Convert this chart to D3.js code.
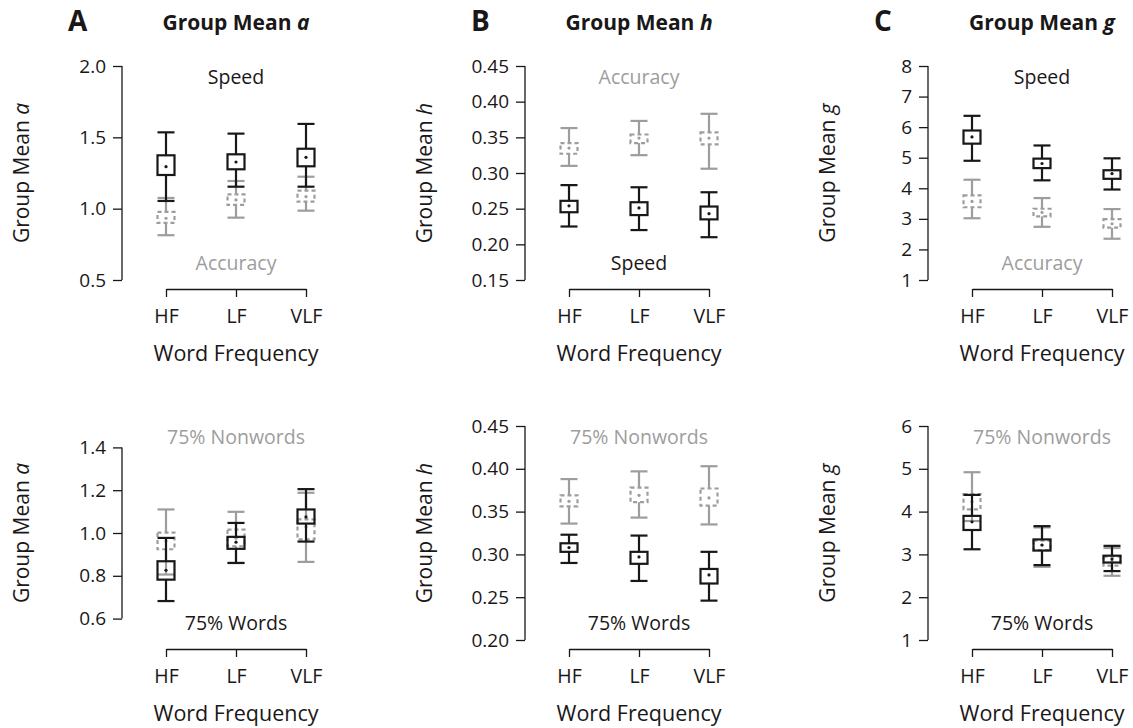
<!DOCTYPE html>
<html>
<head>
<meta charset="utf-8">
<script src="https://cdn.jsdelivr.net/npm/d3@7"></script>
<style>
  body { margin: 0; background: #fff; }
  text { font-family: "Open Sans", sans-serif; fill: #1a1718; }
</style>
</head>
<body>
<div id="chart"></div>
<script>
var width = 1133;
var height = 728;

// categories on the x axis
var categories = ["HF", "LF", "VLF"];

// each entry: [whisker low, box low, mean, box high, whisker high] for HF, LF, VLF
// row 1: speed vs accuracy instructions
var aSpeed    = [[1.054, 1.236, 1.294, 1.374, 1.535], [1.154, 1.276, 1.327, 1.381, 1.526], [1.154, 1.297, 1.360, 1.420, 1.594]];
var aAccuracy = [[0.814, 0.900, 0.933, 0.977, 1.075], [0.937, 1.026, 1.061, 1.100, 1.194], [0.986, 1.049, 1.084, 1.126, 1.224]];
var hSpeed    = [[0.225, 0.245, 0.254, 0.261, 0.283], [0.220, 0.241, 0.251, 0.259, 0.280], [0.210, 0.235, 0.243, 0.253, 0.273]];
var hAccuracy = [[0.310, 0.327, 0.335, 0.342, 0.363], [0.325, 0.342, 0.349, 0.354, 0.373], [0.306, 0.340, 0.349, 0.357, 0.383]];
var gSpeed    = [[4.90, 5.46, 5.68, 5.89, 6.37], [4.26, 4.66, 4.81, 4.97, 5.40], [3.96, 4.31, 4.48, 4.59, 4.98]];
var gAccuracy = [[3.02, 3.38, 3.57, 3.77, 4.28], [2.74, 3.08, 3.21, 3.33, 3.68], [2.35, 2.71, 2.84, 2.99, 3.32]];

// row 2: 75% words vs 75% nonwords
var aWords    = [[0.682, 0.782, 0.826, 0.868, 0.977], [0.860, 0.926, 0.957, 0.982, 1.047], [0.960, 1.044, 1.075, 1.110, 1.205]];
var aNonwords = [[0.806, 0.924, 0.963, 1.002, 1.110], [0.860, 0.938, 0.976, 1.016, 1.099], [0.865, 0.970, 1.029, 1.064, 1.188]];
var hWords    = [[0.290, 0.303, 0.308, 0.313, 0.323], [0.269, 0.289, 0.297, 0.303, 0.322], [0.246, 0.266, 0.276, 0.283, 0.303]];
var hNonwords = [[0.336, 0.356, 0.362, 0.369, 0.388], [0.343, 0.361, 0.369, 0.378, 0.397], [0.335, 0.357, 0.366, 0.377, 0.403]];
var gWords    = [[3.12, 3.57, 3.76, 3.90, 4.39], [2.75, 3.09, 3.22, 3.35, 3.66], [2.61, 2.81, 2.89, 2.97, 3.20]];
var gNonwords = [[3.78, 4.05, 4.23, 4.41, 4.92], [2.71, 3.10, 3.22, 3.32, 3.63], [2.50, 2.74, 2.84, 2.95, 3.15]];

// tick labels
var aTicksTop = [0.5, 1.0, 1.5, 2.0];
var hTicksTop = [0.15, 0.20, 0.25, 0.30, 0.35, 0.40, 0.45];
var gTicksTop = [1, 2, 3, 4, 5, 6, 7, 8];
var aTicksBottom = [0.6, 0.8, 1.0, 1.2, 1.4];
var hTicksBottom = [0.20, 0.25, 0.30, 0.35, 0.40, 0.45];
var gTicksBottom = [1, 2, 3, 4, 5, 6];

var black = '#1a1718';
var grey = '#9d9d9d';

var panels = [
  {col: 0, row: 0, param: 'a', letter: 'A', domain: [0.5, 2.0], ticks: aTicksTop, fmt: '.1f',
   solid: aSpeed, dashed: aAccuracy, topLabel: ['Speed', black], botLabel: ['Accuracy', grey]},
  {col: 1, row: 0, param: 'h', letter: 'B', domain: [0.15, 0.45], ticks: hTicksTop, fmt: '.2f',
   solid: hSpeed, dashed: hAccuracy, topLabel: ['Accuracy', grey], botLabel: ['Speed', black]},
  {col: 2, row: 0, param: 'g', letter: 'C', domain: [1, 8], ticks: gTicksTop, fmt: 'd',
   solid: gSpeed, dashed: gAccuracy, topLabel: ['Speed', black], botLabel: ['Accuracy', grey]},
  {col: 0, row: 1, param: 'a', domain: [0.5, 1.5], ticks: aTicksBottom, fmt: '.1f',
   solid: aWords, dashed: aNonwords, topLabel: ['75% Nonwords', grey], botLabel: ['75% Words', black]},
  {col: 1, row: 1, param: 'h', domain: [0.20, 0.45], ticks: hTicksBottom, fmt: '.2f',
   solid: hWords, dashed: hNonwords, topLabel: ['75% Nonwords', grey], botLabel: ['75% Words', black]},
  {col: 2, row: 1, param: 'g', domain: [1, 6], ticks: gTicksBottom, fmt: 'd',
   solid: gWords, dashed: gNonwords, topLabel: ['75% Nonwords', grey], botLabel: ['75% Words', black]}
];

var axisX = [122, 525, 928];
var rowRange = [[280, 66], [640, 426]];
var boxHalf = 8.5;

var svg = d3.select('#chart').append('svg').attr('width', width).attr('height', height);

panels.forEach(function(p) {
  var x0 = axisX[p.col];
  var range = rowRange[p.row];
  var g = svg.append('g').attr('class', 'panel');

  var y = d3.scaleLinear().domain(p.domain).range(range);
  var x = d3.scalePoint().domain(categories).range([x0 + 44, x0 + 184]);

  // y axis, line only between first and last tick
  var yAxis = d3.axisLeft(y).tickValues(p.ticks).tickSize(9).tickPadding(7)
    .tickFormat(d3.format(p.fmt));
  var ya = g.append('g').attr('transform', 'translate(' + x0 + ',0)').call(yAxis);
  ya.select('.domain').remove();
  ya.selectAll('.tick line').attr('stroke', black).attr('stroke-width', 1.3);
  ya.selectAll('.tick text').attr('font-size', 19).attr('fill', black)
    .style('font-family', '"Open Sans", sans-serif');
  ya.append('line')
    .attr('x1', 0).attr('x2', 0)
    .attr('y1', y(d3.min(p.ticks))).attr('y2', y(d3.max(p.ticks)))
    .attr('stroke', black).attr('stroke-width', 1.3);

  // x bracket axis
  var by = range[0] + 9;
  var xAxis = d3.axisBottom(x).tickSizeInner(8).tickSizeOuter(0).tickPadding(12);
  var xa = g.append('g').attr('transform', 'translate(0,' + by + ')').call(xAxis);
  xa.select('.domain').attr('stroke', black).attr('stroke-width', 1.3);
  xa.selectAll('.tick line').attr('stroke', black).attr('stroke-width', 1.3);
  xa.selectAll('.tick text').attr('font-size', 19.5).attr('fill', black)
    .style('font-family', '"Open Sans", sans-serif');

  // axis titles
  g.append('text')
    .attr('x', x('LF')).attr('y', by + 72)
    .attr('text-anchor', 'middle').attr('font-size', 21.5)
    .text('Word Frequency');

  var yl = g.append('text')
    .attr('transform', 'translate(' + (x0 - 93) + ',' + ((range[0] + range[1]) / 2) + ') rotate(-90)')
    .attr('text-anchor', 'middle').attr('font-size', 21);
  yl.append('tspan').text('Group Mean ');
  yl.append('tspan').attr('font-style', 'italic').text(p.param);

  // panel heading
  if (p.letter) {
    g.append('text')
      .attr('x', x0 - 54).attr('y', 31)
      .attr('font-size', 28).attr('font-weight', 'bold')
      .text(p.letter);
    var t = g.append('text')
      .attr('x', x('LF')).attr('y', 30)
      .attr('text-anchor', 'middle').attr('font-size', 21).attr('font-weight', 'bold');
    t.append('tspan').text('Group Mean ');
    t.append('tspan').attr('font-style', 'italic').text(p.param);
  }

  // condition labels
  g.append('text')
    .attr('x', x('LF')).attr('y', range[1] + 18)
    .attr('text-anchor', 'middle').attr('font-size', 19.5)
    .style('fill', p.topLabel[1])
    .text(p.topLabel[0]);
  g.append('text')
    .attr('x', x('LF')).attr('y', range[0] - 10)
    .attr('text-anchor', 'middle').attr('font-size', 19.5)
    .style('fill', p.botLabel[1])
    .text(p.botLabel[0]);

  // error bars with boxes
  function drawSeries(data, color, dash, cls) {
    var sg = g.append('g').attr('class', cls);
    var items = sg.selectAll('g.item').data(data).enter().append('g').attr('class', 'item');

    // upper whisker
    items.append('line')
      .attr('x1', function(d, i) { return x(categories[i]); })
      .attr('x2', function(d, i) { return x(categories[i]); })
      .attr('y1', function(d) { return y(d[3]); })
      .attr('y2', function(d) { return y(d[4]); })
      .attr('stroke', color).attr('stroke-width', 2.2);
    // lower whisker
    items.append('line')
      .attr('x1', function(d, i) { return x(categories[i]); })
      .attr('x2', function(d, i) { return x(categories[i]); })
      .attr('y1', function(d) { return y(d[1]); })
      .attr('y2', function(d) { return y(d[0]); })
      .attr('stroke', color).attr('stroke-width', 2.2);
    // caps
    items.append('line')
      .attr('x1', function(d, i) { return x(categories[i]) - boxHalf; })
      .attr('x2', function(d, i) { return x(categories[i]) + boxHalf; })
      .attr('y1', function(d) { return y(d[4]); })
      .attr('y2', function(d) { return y(d[4]); })
      .attr('stroke', color).attr('stroke-width', 2.2);
    items.append('line')
      .attr('x1', function(d, i) { return x(categories[i]) - boxHalf; })
      .attr('x2', function(d, i) { return x(categories[i]) + boxHalf; })
      .attr('y1', function(d) { return y(d[0]); })
      .attr('y2', function(d) { return y(d[0]); })
      .attr('stroke', color).attr('stroke-width', 2.2);
    // box
    items.append('rect')
      .attr('x', function(d, i) { return x(categories[i]) - boxHalf; })
      .attr('y', function(d) { return y(d[3]); })
      .attr('width', boxHalf * 2)
      .attr('height', function(d) { return y(d[1]) - y(d[3]); })
      .attr('fill', 'none')
      .attr('stroke', color).attr('stroke-width', 2.2)
      .attr('stroke-dasharray', dash);
    // mean
    items.append('circle')
      .attr('cx', function(d, i) { return x(categories[i]); })
      .attr('cy', function(d) { return y(d[2]); })
      .attr('r', 1.6)
      .attr('fill', color);
  }

  drawSeries(p.dashed, grey, '4,3', 'dashed_series');
  drawSeries(p.solid, black, null, 'solid_series');
});
</script>
</body>
</html>
